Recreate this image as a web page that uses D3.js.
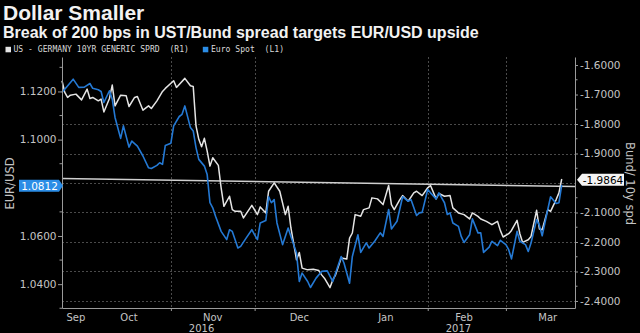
<!DOCTYPE html>
<html>
<head>
<meta charset="utf-8">
<script src="https://cdn.jsdelivr.net/npm/d3@7"></script>
<style>
  html, body { margin: 0; padding: 0; background: #000; }
  svg { display: block; }
</style>
</head>
<body>
<svg id="chart" width="640" height="333"></svg>
<script>
// EUR/USD spot (left axis)
const eurDates = [
  "2016-09-23","2016-09-27","2016-09-29","2016-10-01","2016-10-03","2016-10-04","2016-10-06","2016-10-07",
  "2016-10-08","2016-10-10","2016-10-11","2016-10-12","2016-10-14","2016-10-15","2016-10-17","2016-10-18",
  "2016-10-20","2016-10-22","2016-10-24","2016-10-25","2016-10-27","2016-10-28","2016-10-29","2016-10-30",
  "2016-11-01","2016-11-02","2016-11-04","2016-11-05","2016-11-06","2016-11-08","2016-11-09","2016-11-10",
  "2016-11-11","2016-11-13","2016-11-14","2016-11-15","2016-11-16","2016-11-17","2016-11-19","2016-11-21",
  "2016-11-22","2016-11-23","2016-11-25","2016-11-26","2016-11-28","2016-11-30","2016-12-01","2016-12-02",
  "2016-12-03","2016-12-05","2016-12-06","2016-12-07","2016-12-08","2016-12-09","2016-12-11","2016-12-13",
  "2016-12-14","2016-12-16","2016-12-17","2016-12-18","2016-12-20","2016-12-21","2016-12-23","2016-12-25",
  "2016-12-27","2016-12-29","2016-12-30","2017-01-01","2017-01-02","2017-01-04","2017-01-05","2017-01-07",
  "2017-01-08","2017-01-10","2017-01-11","2017-01-13","2017-01-15","2017-01-16","2017-01-18","2017-01-19",
  "2017-01-21","2017-01-23","2017-01-25","2017-01-26","2017-01-28","2017-01-29","2017-01-30","2017-02-01",
  "2017-02-02","2017-02-04","2017-02-05","2017-02-06","2017-02-07","2017-02-08","2017-02-09","2017-02-10",
  "2017-02-12","2017-02-13","2017-02-14","2017-02-16","2017-02-17","2017-02-19","2017-02-20","2017-02-21",
  "2017-02-23","2017-02-24","2017-02-26","2017-02-27","2017-03-01","2017-03-02","2017-03-03","2017-03-05",
  "2017-03-06","2017-03-08","2017-03-09","2017-03-10","2017-03-12","2017-03-13","2017-03-14","2017-03-16",
  "2017-03-17","2017-03-19","2017-03-20","2017-03-21"
];
const eurValues = [
  1.1196,1.1251,1.1217,1.1218,1.1233,1.1213,1.1207,1.1200,
  1.1154,1.1203,1.1168,1.1092,1.1005,1.1057,1.0969,1.0994,
  1.0973,1.0932,1.0883,1.0880,1.0893,1.0904,1.0897,1.0976,
  1.0985,1.1057,1.1096,1.1105,1.1140,1.1050,1.1036,1.0967,
  1.0918,1.0890,1.0855,1.0738,1.0717,1.0682,1.0619,1.0585,
  1.0626,1.0619,1.0550,1.0557,1.0592,1.0626,1.0605,1.0585,
  1.0654,1.0664,1.0763,1.0738,1.0751,1.0654,1.0564,1.0633,
  1.0598,1.0529,1.0411,1.0446,1.0411,1.0386,1.0425,1.0453,
  1.0455,1.0411,1.0446,1.0515,1.0488,1.0404,1.0515,1.0605,
  1.0532,1.0571,1.0550,1.0578,1.0613,1.0598,1.0710,1.0629,
  1.0661,1.0763,1.0744,1.0751,1.0685,1.0696,1.0698,1.0793,
  1.0779,1.0754,1.0779,1.0758,1.0738,1.0689,1.0696,1.0654,
  1.0640,1.0598,1.0573,1.0605,1.0671,1.0613,1.0613,1.0532,
  1.0554,1.0578,1.0560,1.0582,1.0564,1.0543,1.0505,1.0619,
  1.0578,1.0564,1.0536,1.0571,1.0668,1.0644,1.0601,1.0710,
  1.0763,1.0735,1.0738,1.0812
];

// US - Germany 10y generic spread (right axis)
const sprdDates = [
  "2016-09-23","2016-09-24","2016-09-25","2016-09-26","2016-09-28","2016-09-30","2016-10-02","2016-10-03",
  "2016-10-04","2016-10-06","2016-10-07","2016-10-08","2016-10-10","2016-10-11","2016-10-12","2016-10-14",
  "2016-10-16","2016-10-17","2016-10-19","2016-10-20","2016-10-22","2016-10-24","2016-10-25","2016-10-27",
  "2016-10-29","2016-10-30","2016-11-02","2016-11-03","2016-11-06","2016-11-08","2016-11-09","2016-11-10",
  "2016-11-11","2016-11-12","2016-11-13","2016-11-14","2016-11-15","2016-11-16","2016-11-18","2016-11-19",
  "2016-11-20","2016-11-22","2016-11-23","2016-11-24","2016-11-26","2016-11-27","2016-11-30","2016-12-02",
  "2016-12-03","2016-12-05","2016-12-06","2016-12-08","2016-12-10","2016-12-12","2016-12-13","2016-12-14",
  "2016-12-16","2016-12-17","2016-12-18","2016-12-20","2016-12-22","2016-12-24","2016-12-25","2016-12-26",
  "2016-12-28","2016-12-29","2016-12-30","2017-01-01","2017-01-03","2017-01-04","2017-01-05","2017-01-06",
  "2017-01-08","2017-01-09","2017-01-11","2017-01-12","2017-01-14","2017-01-16","2017-01-18","2017-01-19",
  "2017-01-20","2017-01-22","2017-01-23","2017-01-25","2017-01-27","2017-01-28","2017-01-30","2017-02-01",
  "2017-02-02","2017-02-04","2017-02-05","2017-02-07","2017-02-09","2017-02-10","2017-02-12","2017-02-14",
  "2017-02-16","2017-02-17","2017-02-19","2017-02-20","2017-02-22","2017-02-24","2017-02-26","2017-02-27",
  "2017-02-28","2017-03-02","2017-03-03","2017-03-05","2017-03-06","2017-03-07","2017-03-09","2017-03-10",
  "2017-03-12","2017-03-13","2017-03-14","2017-03-16","2017-03-17","2017-03-19","2017-03-20","2017-03-21"
];
const sprdValues = [
  -1.6534,-1.6929,-1.7100,-1.7021,-1.6987,-1.7181,-1.6817,-1.7134,
  -1.7100,-1.7215,-1.7157,-1.7590,-1.7134,-1.6681,-1.7386,-1.7021,
  -1.7045,-1.7406,-1.7100,-1.7066,-1.7532,-1.7386,-1.7474,-1.7215,
  -1.6895,-1.6793,-1.6534,-1.6759,-1.6453,-1.6705,-1.6725,-1.8066,
  -1.8519,-1.8768,-1.8485,-1.8917,-1.9428,-1.9142,-1.9404,-2.0163,
  -2.0790,-2.0449,-2.0902,-2.0960,-2.0960,-2.1185,-2.0756,-2.1072,
  -2.0810,-2.1014,-2.0279,-1.9993,-2.0279,-2.1072,-2.0790,-2.1525,
  -2.2604,-2.2356,-2.2887,-2.2945,-2.2921,-2.2968,-2.3115,-2.3227,
  -2.3547,-2.3285,-2.3115,-2.2546,-2.2580,-2.1866,-2.1695,-2.1072,
  -2.1130,-2.0902,-2.0844,-2.0504,-2.0538,-2.0732,-2.0085,-2.0732,
  -2.0902,-2.0562,-2.0426,-2.0620,-2.0334,-2.0279,-2.0426,-2.0163,
  -2.0085,-2.0538,-2.0357,-2.0449,-2.0426,-2.0844,-2.1014,-2.1072,
  -2.1219,-2.1014,-2.1130,-2.1219,-2.1301,-2.1413,-2.1301,-2.1607,
  -2.1831,-2.1719,-2.1607,-2.1266,-2.1719,-2.2015,-2.1923,-2.1811,
  -2.0926,-2.1559,-2.1583,-2.0902,-2.0960,-2.0562,-2.0334,-1.9864
];

// Horizontal resistance line on the spread axis (start / end value)
const trendValues = [-1.9847, -2.0119];

// Axis ticks
const leftTicks = [1.04, 1.06, 1.10, 1.12];
const leftMinorTicks = [1.03, 1.05, 1.07, 1.09, 1.11, 1.13];
const rightTicks = [-1.6, -1.7, -1.8, -1.9, -2.1, -2.2, -2.3, -2.4];
const rightMinorTicks = [-1.65, -1.75, -1.85, -1.95, -2.05, -2.15, -2.25, -2.35];
const gridValues = [-1.8, -1.9, -2.0, -2.1, -2.2, -2.3, -2.4];
const gridDates = ["2016-11-01", "2016-12-01", "2017-02-01", "2017-03-01"];
const monthNames = ["Sep", "Oct", "Nov", "Dec", "Jan", "Feb", "Mar"];
const monthDates = ["2016-09-28", "2016-10-17", "2016-11-16", "2016-12-17", "2017-01-17", "2017-02-14", "2017-03-16"];
const yearNames = ["2016", "2017"];
const yearDates = ["2016-11-12", "2017-02-12"];

const titleText = "Dollar Smaller";
const subtitleText = "Break of 200 bps in UST/Bund spread targets EUR/USD upside";
const legendNames = ["US - GERMANY 10YR GENERIC SPRD  (R1)", "Euro Spot  (L1)"];

const parse = d3.timeParse("%Y-%m-%d");
const eurData = eurDates.map((d, i) => ({ date: parse(d), value: eurValues[i] }));
const sprdData = sprdDates.map((d, i) => ({ date: parse(d), value: sprdValues[i] }));

const C = {
  white: "#e4e4e4",
  blue: "#2479d4",
  blueBox: "#2b8de6",
  axis: "#9a9a9a",
  tickText: "#c4c4c4",
  grid: "#4a4a4a"
};

const svg = d3.select("#chart");
const plot = { left: 62, right: 575, top: 57, bottom: 308 };

const x = d3.scaleTime()
  .domain([new Date(2016, 8, 23), new Date(2017, 2, 25, 18)])
  .range([plot.left, plot.right]);
const yL = d3.scaleLinear().domain([1.0301, 1.1343]).range([plot.bottom, plot.top]);
const yR = d3.scaleLinear().domain([-2.4238, -1.5728]).range([plot.bottom, plot.top]);

const fmt = d3.formatLocale({ decimal: ".", thousands: ",", grouping: [3], currency: ["", ""], minus: "-" }).format(".4f");

svg.append("rect").attr("width", 640).attr("height", 333).attr("fill", "#000");

// Titles
svg.append("text").attr("x", 3).attr("y", 20)
  .attr("font-family", "Liberation Sans, Arial, sans-serif").attr("font-weight", "bold")
  .attr("font-size", 21).attr("fill", "#f2f2f2").text(titleText);
svg.append("text").attr("x", 3).attr("y", 37.5)
  .attr("font-family", "Liberation Sans, Arial, sans-serif").attr("font-weight", "bold")
  .attr("font-size", 16).attr("fill", "#f2f2f2").text(subtitleText);

// Legend
const legend = svg.append("g").attr("font-family", "DejaVu Sans Mono, monospace").attr("font-size", 8.1).attr("fill", "#d8d8d8");
legend.append("rect").attr("x", 5.5).attr("y", 46.8).attr("width", 5.5).attr("height", 5.5).attr("fill", C.white);
legend.append("text").attr("x", 13.5).attr("y", 52.3).attr("xml:space", "preserve").text(legendNames[0]);
legend.append("rect").attr("x", 202.8).attr("y", 46.8).attr("width", 5.5).attr("height", 5.5).attr("fill", C.blueBox);
legend.append("text").attr("x", 211).attr("y", 52.3).attr("xml:space", "preserve").text(legendNames[1]);

// Grid
const grid = svg.append("g").attr("stroke", C.grid).attr("stroke-width", 1).attr("stroke-dasharray", "2,2");
grid.selectAll("line.h").data(gridValues).join("line").attr("class", "h")
  .attr("x1", plot.left).attr("x2", plot.right)
  .attr("y1", d => Math.round(yR(d)) + 0.5).attr("y2", d => Math.round(yR(d)) + 0.5);
grid.selectAll("line.v").data(gridDates).join("line").attr("class", "v")
  .attr("x1", d => Math.round(x(parse(d))) + 0.5).attr("x2", d => Math.round(x(parse(d))) + 0.5)
  .attr("y1", plot.top).attr("y2", plot.bottom);

// Resistance line
const [d0, d1] = x.domain();
svg.append("line")
  .attr("x1", x(d0)).attr("y1", yR(trendValues[0]))
  .attr("x2", x(d1)).attr("y2", yR(trendValues[1]))
  .attr("stroke", "#cfcfcf").attr("stroke-width", 1.6);

// Series
const lineL = d3.line().x(d => x(d.date)).y(d => yL(d.value));
const lineR = d3.line().x(d => x(d.date)).y(d => yR(d.value));
svg.append("path").datum(sprdData).attr("d", lineR)
  .attr("fill", "none").attr("stroke", C.white).attr("stroke-width", 1.5).attr("stroke-linejoin", "round");
svg.append("path").datum(eurData).attr("d", lineL)
  .attr("fill", "none").attr("stroke", C.blue).attr("stroke-width", 1.6).attr("stroke-linejoin", "round");

// Axes
function styleAxis(g) {
  g.selectAll(".domain").attr("stroke", C.axis);
  g.selectAll(".tick line").attr("stroke", C.axis);
  g.selectAll(".tick text").attr("fill", C.tickText).attr("font-family", "DejaVu Sans, sans-serif").attr("font-size", 10.5);
}
const axL = svg.append("g").attr("transform", `translate(${plot.left},0)`)
  .call(d3.axisLeft(yL).tickValues(leftTicks).tickFormat(fmt).tickSize(4).tickPadding(1.5).tickSizeOuter(0));
styleAxis(axL);
axL.selectAll(".minor").data(leftMinorTicks).join("line").attr("class", "minor")
  .attr("x1", -2.5).attr("x2", 0).attr("y1", d => yL(d)).attr("y2", d => yL(d)).attr("stroke", C.axis);

const axR = svg.append("g").attr("transform", `translate(${plot.right},0)`)
  .call(d3.axisRight(yR).tickValues(rightTicks).tickFormat(fmt).tickSize(3).tickPadding(2).tickSizeOuter(0));
styleAxis(axR);
axR.selectAll(".minor").data(rightMinorTicks).join("line").attr("class", "minor")
  .attr("x1", 0).attr("x2", 2.5).attr("y1", d => yR(d)).attr("y2", d => yR(d)).attr("stroke", C.axis);

const axB = svg.append("g").attr("transform", `translate(0,${plot.bottom})`)
  .call(d3.axisBottom(x).tickValues(gridDates.map(parse)).tickFormat("").tickSize(3).tickSizeOuter(0));
styleAxis(axB);

svg.append("g").attr("font-family", "DejaVu Sans, sans-serif").attr("font-size", 10).attr("fill", C.tickText)
  .attr("text-anchor", "middle")
  .selectAll("text").data(monthNames).join("text")
  .attr("x", (d, i) => x(parse(monthDates[i]))).attr("y", 320.5).text(d => d);
svg.append("g").attr("font-family", "DejaVu Sans, sans-serif").attr("font-size", 10).attr("fill", C.tickText)
  .attr("text-anchor", "middle")
  .selectAll("text").data(yearNames).join("text")
  .attr("x", (d, i) => x(parse(yearDates[i]))).attr("y", 332).text(d => d);

// Axis titles
svg.append("text").attr("transform", `translate(9.5,${(plot.top + plot.bottom) / 2 + 1}) rotate(-90)`)
  .attr("text-anchor", "middle").attr("dominant-baseline", "central")
  .attr("font-family", "DejaVu Sans, sans-serif").attr("font-size", 11.5).attr("fill", C.tickText).text("EUR/USD");
svg.append("text").attr("transform", `translate(630,${(plot.top + plot.bottom) / 2 + 1}) rotate(90)`)
  .attr("text-anchor", "middle").attr("dominant-baseline", "central")
  .attr("font-family", "DejaVu Sans, sans-serif").attr("font-size", 11.5).attr("fill", C.tickText).text("Bund/ 10y spd");

// Last-value tags
const lastEur = eurData[eurData.length - 1];
const lastSprd = sprdData[sprdData.length - 1];
const ye = yL(lastEur.value) + 0.8;
svg.append("path")
  .attr("d", `M19,${ye - 6} H59 L63,${ye} L59,${ye + 6} H19 Z`)
  .attr("fill", C.blueBox);
svg.append("text").attr("x", 39.5).attr("y", ye).attr("text-anchor", "middle").attr("dominant-baseline", "central")
  .attr("font-family", "DejaVu Sans, sans-serif").attr("font-size", 10.5).attr("fill", "#fff").text(fmt(lastEur.value));

const ys = yR(lastSprd.value) + 0.7;
svg.append("path")
  .attr("d", `M577,${ys} L582,${ys - 6} H624 V${ys + 6} H582 Z`)
  .attr("fill", "#f4f4f4");
svg.append("text").attr("x", 603).attr("y", ys).attr("text-anchor", "middle").attr("dominant-baseline", "central")
  .attr("font-family", "DejaVu Sans, sans-serif").attr("font-size", 10.5).attr("fill", "#000").text(fmt(lastSprd.value));
</script>
</body>
</html>
